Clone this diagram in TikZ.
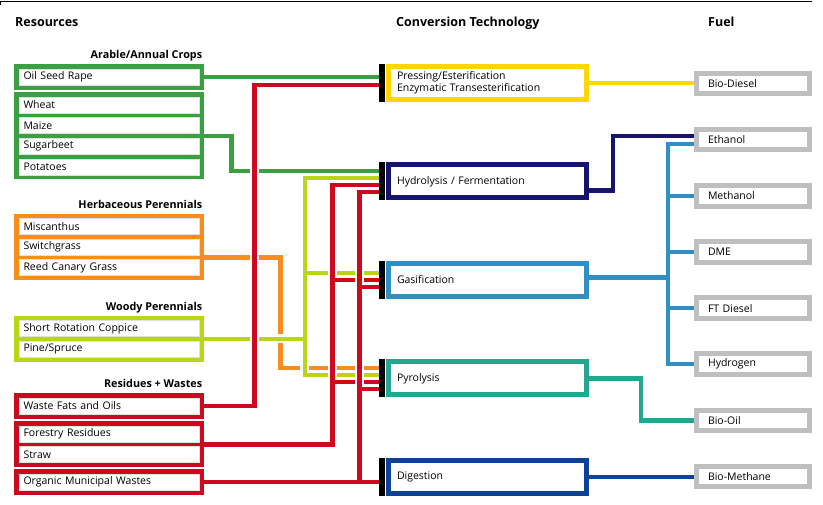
\documentclass[tikz,border=0pt]{standalone}
\usepackage{fontspec}
\setmainfont{Open Sans}
\usetikzlibrary{positioning,calc,fit,backgrounds}

\definecolor{arable}{RGB}{58,160,66}
\definecolor{herb}{RGB}{247,141,30}
\definecolor{woody}{RGB}{184,214,22}
\definecolor{residue}{RGB}{206,9,31}
\definecolor{techyellow}{RGB}{255,214,0}
\definecolor{technavy}{RGB}{22,20,110}
\definecolor{techblue}{RGB}{48,144,196}
\definecolor{techteal}{RGB}{38,166,142}
\definecolor{techdeep}{RGB}{14,66,150}
\definecolor{fuelgray}{RGB}{191,191,191}

\def\feedW{4.5pt}
\def\gapW{9pt}
\def\borderW{5pt}
\newcommand\boxfont{\fontsize{10.5}{12.3}\selectfont}
\newcommand\headfont{\fontsize{12.5}{14}\selectfont\bfseries}
\newcommand\titlefont{\fontsize{10.8}{12}\selectfont\bfseries}

\tikzset
{
  Item/.style =
  {
    draw=black!12, line width=0.4pt, fill=white,
    minimum width=180pt, minimum height=16pt,
    text width=171pt, inner xsep=4.5pt, inner ysep=0pt,
    align=left, font=\boxfont,
  },
  Group/.style = {fill=#1, inner sep=4.5pt},
  Tech/.style =
  {
    draw=#1, line width=\borderW, fill=white,
    minimum width=198pt, minimum height=33pt,
    text width=181pt, inner xsep=8.5pt,
    align=left, font=\boxfont,
  },
  Bar/.style = {fill=black, minimum width=6pt, minimum height=38pt, inner sep=0pt, outer sep=0pt},
  Fuel/.style =
  {
    draw=fuelgray, line width=\borderW, fill=white,
    minimum width=113pt, minimum height=20.5pt,
    text width=90pt, inner xsep=11.5pt,
    align=left, font=\boxfont,
  },
  Head/.style = {font=\headfont, anchor=base west, inner sep=0pt},
  GroupTitle/.style = {font=\titlefont, anchor=base east, inner sep=0pt},
  Feed/.style = {draw=#1, line width=\feedW},
  FeedOver/.style = {Feed=#1, preaction={draw=white, line width=\gapW}}, % leaves a gap where it crosses
  Link/.style = {draw=#1, line width=\feedW},
}

\begin{document}
\begin{tikzpicture}
[
  x=1pt, y=-1pt,
  node distance=4.2pt, % space between stacked items
]
\useasboundingbox (0,0) rectangle (823,505);
\draw [line width=1pt] (0,2) -- (812,2);
\draw [line width=1.4pt] (0.7,2) -- (0.7,5.5);

% column heads
\node (reshead) [Head] at (15,26.5) {Resources};
\node (techhead) [Head] at (396,26.5) {Conversion Technology};
\node (fuelhead) [Head] at (708,26.5) {Fuel};

% resources
\node (oil) [Item] at (109,77) {Oil Seed Rape};
\node (wheat) [Item] at (109,105) {Wheat};
\node (maize) [Item, below=of wheat] {Maize};
\node (sugarbeet) [Item, below=of maize] {Sugarbeet};
\node (potatoes) [Item, below=of sugarbeet] {Potatoes};
\node (miscanthus) [Item] at (109,226.5) {Miscanthus};
\node (switchgrass) [Item, below=of miscanthus] {Switchgrass};
\node (reed) [Item, below=of switchgrass] {Reed Canary Grass};
\node (coppice) [Item] at (109,328.5) {Short Rotation Coppice};
\node (pine) [Item, below=of coppice] {Pine/Spruce};
\node (fats) [Item] at (109,406) {Waste Fats and Oils};
\node (forestry) [Item] at (109,434) {Forestry Residues};
\node (straw) [Item, below=of forestry] {Straw};
\node (municipal) [Item] at (109,482) {Organic Municipal Wastes};

\begin{scope}[on background layer]
  \node (oilgrp) [Group=arable, fit=(oil)] {};
  \node (grains) [Group=arable, fit=(wheat)(potatoes)] {};
  \node (herbs) [Group=herb, fit=(miscanthus)(reed)] {};
  \node (woods) [Group=woody, fit=(coppice)(pine)] {};
  \node (fatsgrp) [Group=residue, fit=(fats)] {};
  \node (forestgrp) [Group=residue, fit=(forestry)(straw)] {};
  \node (wastegrp) [Group=residue, fit=(municipal)] {};
\end{scope}

\node (arabletitle) [GroupTitle] at ($(oilgrp.north east)+(-1.5,-5.5)$) {Arable/Annual Crops};
\node (herbtitle) [GroupTitle] at ($(herbs.north east)+(-1.5,-5.5)$) {Herbaceous Perennials};
\node (woodtitle) [GroupTitle] at ($(woods.north east)+(-1.5,-5.5)$) {Woody Perennials};
\node (residuetitle) [GroupTitle] at ($(fatsgrp.north east)+(-1.5,-5.5)$) {Residues + Wastes};

% conversion technologies
\node (press) [Tech=techyellow] at (487.5,83) {Pressing/Esterification\\Enzymatic Transesterification};
\node (hydro) [Tech=technavy, below=60.5pt of press] {Hydrolysis / Fermentation};
\node (gas) [Tech=techblue, below=60.5pt of hydro] {Gasification};
\node (pyro) [Tech=techteal, below=60.5pt of gas] {Pyrolysis};
\node (dig) [Tech=techdeep, below=60.5pt of pyro] {Digestion};
\foreach \t in {press,hydro,gas,pyro,dig}
  \node (\t bar) [Bar, left=1pt of \t] {};

% fuels
\node (biodiesel) [Fuel] at (753,83.5) {Bio-Diesel};
\node (ethanol) [Fuel, below=30.65pt of biodiesel] {Ethanol};
\node (methanol) [Fuel, below=30.65pt of ethanol] {Methanol};
\node (dme) [Fuel, below=30.65pt of methanol] {DME};
\node (ftdiesel) [Fuel, below=30.65pt of dme] {FT Diesel};
\node (hydrogen) [Fuel, below=30.65pt of ftdiesel] {Hydrogen};
\node (biooil) [Fuel, below=30.65pt of hydrogen] {Bio-Oil};
\node (biomethane) [Fuel, below=30.65pt of biooil] {Bio-Methane};

% technology -> fuel
\draw [Link=techyellow] (press.east) -- (press.east -| biodiesel.west);
\draw [Link=technavy] ($(hydro.east)+(0,9)$) -- ++(24,0) |- ($(ethanol.west)+(0,-3.5)$);
\coordinate (gasbus) at ($(gas.east)+(79,-2.5)$);
\draw [Link=techblue] ($(gas.east)+(0,-2.5)$) -- (gasbus);
\draw [Link=techblue] ($(ethanol.west)+(0,4.5)$) -| (gasbus |- hydrogen.west) -- (hydrogen.west);
\foreach \f in {methanol,dme,ftdiesel}
  \draw [Link=techblue] (gasbus |- \f.west) -- (\f.west);
\draw [Link=techteal] (pyro.east) -- ++(52,0) |- (biooil.west);
\draw [Link=techdeep] (dig.east) -- (dig.east -| biomethane.west);

% resource -> technology
\coordinate (oilout) at (oilgrp.east);
\coordinate (grainsout) at ($(maize.south -| grains.east)!.5!(sugarbeet.north -| grains.east)$);
\coordinate (reedout) at ($(switchgrass.south -| herbs.east)!.5!(reed.north -| herbs.east)$);
\coordinate (woodout) at ($(coppice.south -| woods.east)!.5!(pine.north -| woods.east)$);
\coordinate (fatsout) at (fatsgrp.east);
\coordinate (forestout) at ($(forestry.south -| forestgrp.east)!.5!(straw.north -| forestgrp.east)$);
\coordinate (wasteout) at (wastegrp.east);

\draw [Feed=arable] (oilout) -- (oilout -| pressbar.west);
\draw [Feed=arable] (grainsout) -- ++(27.5,0) |- ($(hydrobar.west)+(0,-10.5)$);
\draw [Feed=herb] (reedout) -- ++(76.5,0) |- ($(pyrobar.west)+(0,-10.5)$);
\draw [FeedOver=woody] (woodout) -- ++(101,0) coordinate (woodlane)
  ($(hydrobar.west)+(0,-3.5)$) -| (woodlane) |- ($(pyrobar.west)+(0,-3.5)$)
  ($(gasbar.west)+(0,-7)$) -- ++(-74.5,0);
\draw [FeedOver=residue] (fatsout) -- ++(50.5,0) |- ($(pressbar.west)+(0,2)$);
\draw [FeedOver=residue] (forestout) -- ++(128.5,0) |- ($(hydrobar.west)+(0,3.5)$)
  (gasbar.west) -- ++(-47,0)
  ($(pyrobar.west)+(0,3.5)$) -- ++(-47,0);
\draw [FeedOver=residue] (wasteout) -- (wasteout -| digbar.west)
  (wasteout) ++(155.5,0) |- ($(hydrobar.west)+(0,10.5)$)
  ($(gasbar.west)+(0,7)$) -- ++(-20,0)
  ($(pyrobar.west)+(0,10.5)$) -- ++(-20,0);
\end{tikzpicture}
\end{document}
